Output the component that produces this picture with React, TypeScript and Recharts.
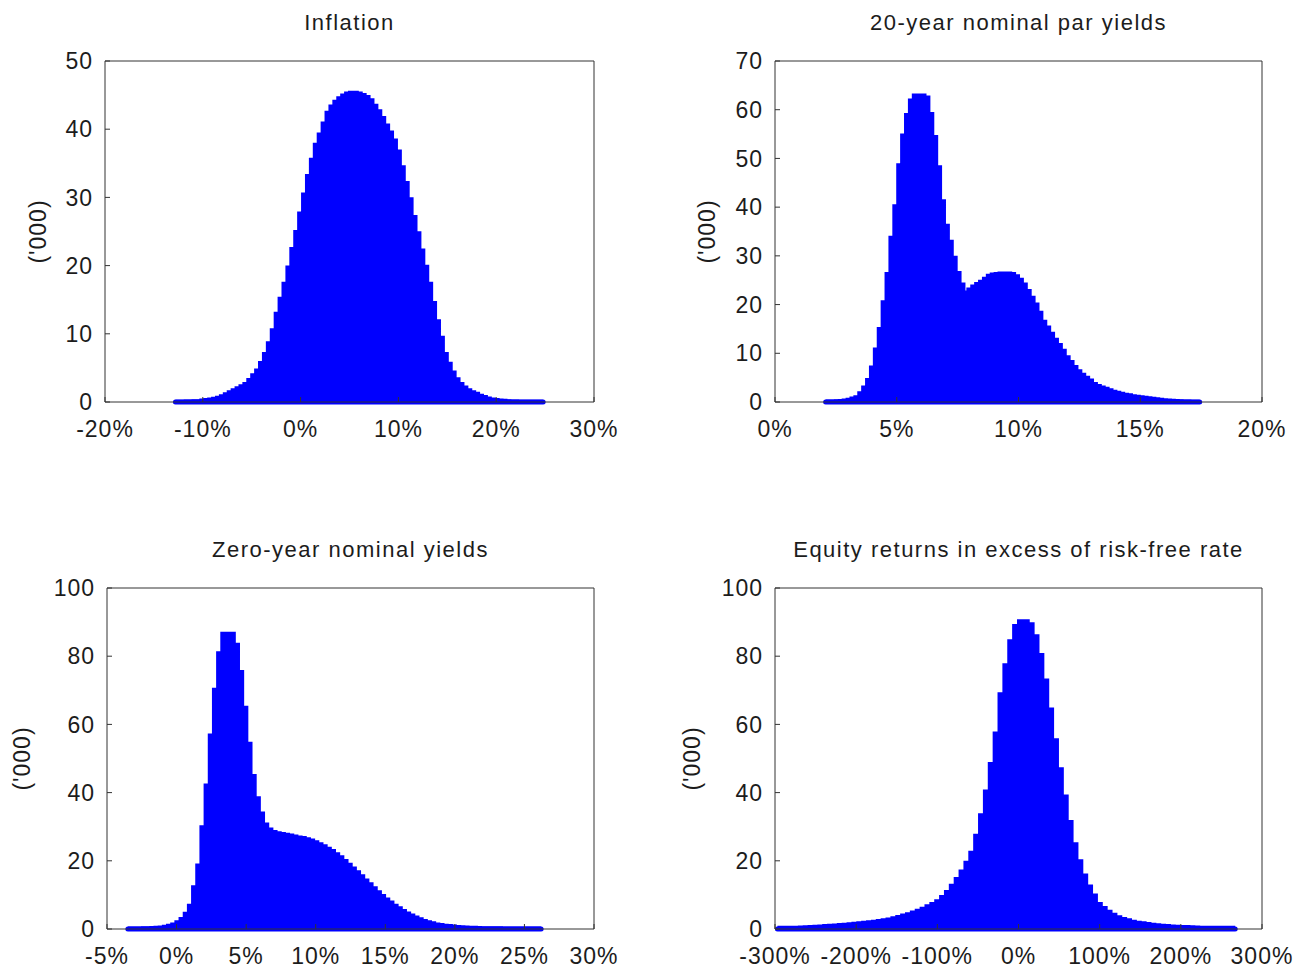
import React from 'react';
import { ComposedChart, Area, XAxis, YAxis, ReferenceLine } from 'recharts';

// Histogram bin counts in thousands.
// Each series: first bin centre (in %), bin width (in %), counts.
const inflationStart = -12.8;
const inflationStep = 0.4;
const inflationCounts = [
  0.1, 0.1, 0.1, 0.15, 0.15, 0.2, 0.2, 0.3, 0.35, 0.45,
  0.55, 0.7, 0.9, 1.2, 1.5, 1.8, 2.1, 2.4, 2.7, 3.3,
  4.0, 4.7, 5.8, 7.1, 8.7, 10.6, 13.0, 15.2, 17.4, 19.8,
  22.5, 25.0, 27.7, 30.5, 33.2, 35.6, 37.8, 39.3, 40.9, 42.5,
  43.4, 44.1, 44.6, 45.0, 45.3, 45.4, 45.4, 45.3, 45.1, 44.8,
  44.3, 43.5, 42.7, 41.7, 40.6, 39.6, 38.4, 36.8, 34.5, 32.2,
  29.8, 27.2, 24.8, 22.3, 19.9, 17.4, 14.6, 11.9, 9.5, 7.1,
  5.7, 4.4, 3.4, 2.7, 2.2, 1.8, 1.5, 1.3, 1.0, 0.8,
  0.6, 0.45, 0.35, 0.3, 0.25, 0.2, 0.15, 0.15, 0.1, 0.1,
  0.1, 0.1, 0.1, 0.1, 0.1,
];

const parStart = 2.08;
const parStep = 0.16;
const parCounts = [
  0.2, 0.2, 0.2, 0.25, 0.3, 0.4, 0.55, 0.8, 1.1, 1.9,
  3.1, 4.6, 7.2, 10.9, 15.1, 20.6, 26.4, 33.8, 40.3, 48.7,
  54.8, 59.0, 62.0, 63.0, 63.0, 63.0, 62.6, 59.2, 54.5, 48.3,
  41.3, 36.3, 33.0, 29.7, 26.6, 24.2, 22.6, 23.2, 23.8, 24.3,
  24.8, 25.4, 26.0, 26.3, 26.4, 26.5, 26.5, 26.5, 26.4, 25.9,
  25.2, 24.2, 22.9, 21.5, 20.1, 18.4, 16.6, 15.4, 14.1, 12.9,
  11.8, 10.6, 9.3, 8.3, 7.3, 6.4, 5.7, 5.1, 4.5, 3.8,
  3.4, 3.1, 2.8, 2.5, 2.2, 2.0, 1.8, 1.6, 1.5, 1.3,
  1.2, 1.1, 0.95, 0.85, 0.75, 0.65, 0.55, 0.45, 0.4, 0.35,
  0.3, 0.25, 0.2, 0.2, 0.15, 0.15, 0.15,
];

const zeroStart = -3.5;
const zeroStep = 0.3;
const zeroCounts = [
  0.3, 0.3, 0.3, 0.3, 0.35, 0.4, 0.45, 0.5, 0.6, 0.8,
  1.1, 1.5, 2.1, 3.1, 4.6, 7.0, 12.4, 18.8, 30.0, 42.2,
  56.9, 70.3, 81.0, 86.7, 86.7, 86.7, 83.5, 75.5, 65.0, 54.5,
  45.0, 38.5, 34.0, 30.8, 29.3, 28.6, 28.2, 28.0, 27.8, 27.6,
  27.3, 27.0, 26.8, 26.5, 26.1, 25.6, 25.0, 24.4, 23.7, 23.0,
  22.1, 21.2, 20.1, 19.0, 17.9, 16.8, 15.6, 14.4, 13.3, 12.1,
  10.9, 9.8, 8.8, 7.9, 7.0, 6.2, 5.4, 4.7, 4.1, 3.5,
  3.0, 2.5, 2.1, 1.8, 1.5, 1.3, 1.1, 1.0, 0.85, 0.75,
  0.65, 0.6, 0.55, 0.5, 0.45, 0.4, 0.4, 0.35, 0.35, 0.35,
  0.3, 0.3, 0.3, 0.3, 0.3, 0.3, 0.3, 0.3, 0.3, 0.3,
];

const equityStart = -297;
const equityStep = 6;
const equityCounts = [
  0.5, 0.5, 0.5, 0.5, 0.55, 0.6, 0.65, 0.7, 0.8, 0.9,
  1.0, 1.1, 1.2, 1.3, 1.4, 1.55, 1.7, 1.85, 2.0, 2.1,
  2.3, 2.5, 2.7, 2.95, 3.3, 3.7, 4.1, 4.5, 5.0, 5.5,
  6.1, 6.8, 7.5, 8.3, 9.5, 11.0, 12.8, 14.8, 17.0, 19.6,
  22.5, 27.5, 33.5, 40.5, 48.5, 57.5, 69.0, 77.5, 84.5, 89.0,
  90.4, 90.4, 89.5, 86.0, 80.5, 73.0, 64.5, 55.5, 47.0, 39.0,
  31.5, 25.0, 20.0, 15.8, 12.6, 10.0, 7.5, 6.3, 5.2, 4.3,
  3.6, 3.1, 2.7, 2.3, 2.0, 1.8, 1.6, 1.4, 1.25, 1.1,
  1.0, 0.9, 0.8, 0.75, 0.7, 0.65, 0.6, 0.55, 0.5, 0.5,
  0.5, 0.5, 0.5, 0.5, 0.5,
];

const inflationXTicks = [-20, -10, 0, 10, 20, 30];
const inflationYTicks = [0, 10, 20, 30, 40, 50];
const parXTicks = [0, 5, 10, 15, 20];
const parYTicks = [0, 10, 20, 30, 40, 50, 60, 70];
const zeroXTicks = [-5, 0, 5, 10, 15, 20, 25, 30];
const zeroYTicks = [0, 20, 40, 60, 80, 100];
const equityXTicks = [-300, -200, -100, 0, 100, 200, 300];
const equityYTicks = [0, 20, 40, 60, 80, 100];

const FONT = '"Liberation Sans", Arial, Helvetica, sans-serif';
const INK = '#1c1c1c';
const FRAME = '#333333';
const BLUE = '#0000ff';

type Row = { x: number; v: number };

const toRows = (start: number, step: number, counts: number[]): Row[] =>
  counts.map((v, i) => ({ x: Math.round((start + i * step) * 1000) / 1000, v }));

interface Box { left: number; top: number; width: number; height: number }
interface Plot { left: number; top: number; right: number; bottom: number }

interface PanelProps {
  title: string;
  rows: Row[];
  xTicks: number[];
  yTicks: number[];
  box: Box;
  plot: Plot;
  labelGap: number;
}

const Panel = ({ title, rows, xTicks, yTicks, box, plot, labelGap }: PanelProps) => {
  const xDomain = [xTicks[0], xTicks[xTicks.length - 1]];
  const yDomain = [0, yTicks[yTicks.length - 1]];
  const tickStyle = { fontFamily: FONT, fontSize: 23, fill: INK, letterSpacing: 1 };
  const line = { stroke: FRAME, strokeWidth: 1 };
  const cx = plot.left - labelGap;
  const cy = (plot.top + plot.bottom) / 2;

  // the mirrored top/right axes take 1px each, so margins are reduced by 1
  return (
    <div style={{ position: 'absolute', left: box.left, top: box.top, width: box.width, height: box.height }}>
      <ComposedChart
        width={box.width}
        height={box.height}
        data={rows}
        margin={{ top: plot.top - 1, right: box.width - plot.right - 1, bottom: 0, left: 0 }}
      >
        <XAxis
          xAxisId="b"
          dataKey="x"
          type="number"
          domain={xDomain}
          ticks={xTicks}
          interval={0}
          allowDataOverflow
          height={box.height - plot.bottom}
          tickFormatter={(v: number) => `${v}%`}
          tick={tickStyle}
          tickSize={-5}
          tickMargin={24}
          axisLine={line}
          tickLine={line}
        />
        <XAxis
          xAxisId="t"
          orientation="top"
          dataKey="x"
          type="number"
          domain={xDomain}
          ticks={xTicks}
          interval={0}
          allowDataOverflow
          height={1}
          tick={false}
          tickSize={-5}
          axisLine={line}
          tickLine={line}
        />
        <YAxis
          yAxisId="l"
          type="number"
          domain={yDomain}
          ticks={yTicks}
          interval={0}
          width={plot.left}
          tick={tickStyle}
          tickSize={-5}
          tickMargin={17}
          axisLine={line}
          tickLine={line}
          label={() => (
            <text
              x={cx}
              y={cy}
              transform={`rotate(-90 ${cx} ${cy})`}
              textAnchor="middle"
              dominantBaseline="central"
              style={{ fontFamily: FONT, fontSize: 23, fill: INK, letterSpacing: 1 }}
            >
              ('000)
            </text>
          )}
        />
        <YAxis
          yAxisId="r"
          orientation="right"
          type="number"
          domain={yDomain}
          ticks={yTicks}
          interval={0}
          width={1}
          tick={false}
          tickSize={-5}
          axisLine={line}
          tickLine={line}
        />
        <Area
          xAxisId="b"
          yAxisId="l"
          type="step"
          dataKey="v"
          baseValue={0}
          fill={BLUE}
          fillOpacity={1}
          stroke={BLUE}
          strokeWidth={3}
          isAnimationActive={false}
          dot={false}
          activeDot={false}
        />
        <ReferenceLine
          xAxisId="b"
          yAxisId="l"
          segment={[{ x: rows[0].x, y: 0 }, { x: rows[rows.length - 1].x, y: 0 }]}
          stroke={BLUE}
          strokeWidth={5}
          strokeLinecap="round"
        />
      </ComposedChart>
      <div
        style={{
          position: 'absolute',
          left: plot.left,
          width: plot.right - plot.left,
          top: plot.top - 38 - 13,
          height: 26,
          lineHeight: '26px',
          textAlign: 'center',
          fontFamily: FONT,
          fontSize: 22,
          letterSpacing: 1.5,
          color: INK,
          whiteSpace: 'nowrap',
        }}
      >
        {title}
      </div>
    </div>
  );
};

export default function App() {
  return (
    <div style={{ position: 'absolute', left: 0, top: 0, width: 1305, height: 972, background: '#fff' }}>
      <Panel
        title="Inflation"
        rows={toRows(inflationStart, inflationStep, inflationCounts)}
        xTicks={inflationXTicks}
        yTicks={inflationYTicks}
        box={{ left: 0, top: 0, width: 650, height: 480 }}
        plot={{ left: 105, top: 61, right: 594, bottom: 402 }}
        labelGap={67}
      />
      <Panel
        title="20-year nominal par yields"
        rows={toRows(parStart, parStep, parCounts)}
        xTicks={parXTicks}
        yTicks={parYTicks}
        box={{ left: 650, top: 0, width: 655, height: 480 }}
        plot={{ left: 125, top: 61, right: 612, bottom: 402 }}
        labelGap={68}
      />
      <Panel
        title="Zero-year nominal yields"
        rows={toRows(zeroStart, zeroStep, zeroCounts)}
        xTicks={zeroXTicks}
        yTicks={zeroYTicks}
        box={{ left: 0, top: 480, width: 650, height: 492 }}
        plot={{ left: 107, top: 108, right: 594, bottom: 449 }}
        labelGap={85}
      />
      <Panel
        title="Equity returns in excess of risk-free rate"
        rows={toRows(equityStart, equityStep, equityCounts)}
        xTicks={equityXTicks}
        yTicks={equityYTicks}
        box={{ left: 650, top: 480, width: 655, height: 492 }}
        plot={{ left: 125, top: 108, right: 612, bottom: 449 }}
        labelGap={83}
      />
    </div>
  );
}
